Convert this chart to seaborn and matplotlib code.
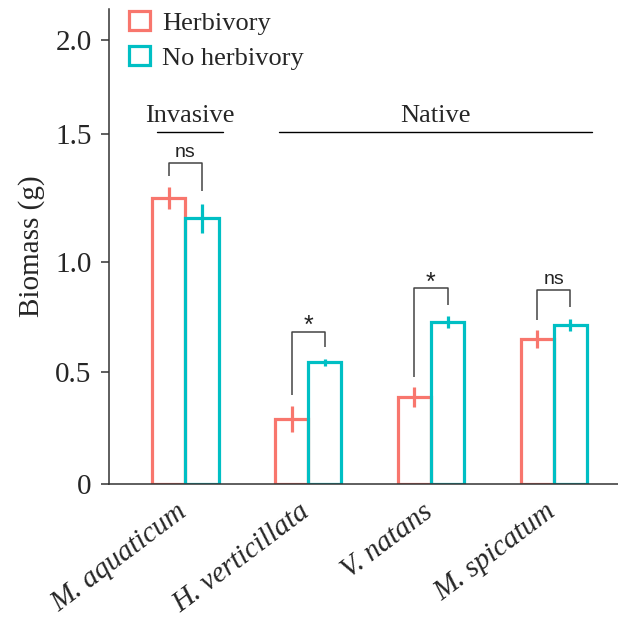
import numpy as np
import pandas as pd
import matplotlib
matplotlib.use("Agg")
import matplotlib.pyplot as plt
import seaborn as sns
from matplotlib.patches import Patch
from matplotlib.transforms import ScaledTranslation

# ---------------- data ----------------
species = ["M. aquaticum", "H. verticillata", "V. natans", "M. spicatum"]
treatments = ["Herbivory", "No herbivory"]
herb_mean = [1.25, 0.29, 0.387, 0.65]
herb_se = [0.042, 0.06, 0.044, 0.039]
noherb_mean = [1.17, 0.544, 0.727, 0.715]
noherb_se = [0.057, 0.015, 0.029, 0.028]
sig_labels = ["ns", "*", "*", "ns"]
bracket_top = [1.386, 0.683, 0.880, 0.871]
bracket_left = [1.336, 0.397, 0.479, 0.736]
bracket_right = [1.279, 0.615, 0.805, 0.797]
group_names = ["Invasive", "Native"]
group_first = [0, 1]
group_last = [0, 3]
group_line_y = 1.512
y_ticks = [0, 0.5, 1.0, 1.5, 2.0]
y_tick_labels = ["0", "0.5", "1.0", "1.5", "2.0"]
colors = ["#F8766D", "#00BFC4"]

df = pd.DataFrame({
    "species": species * 2,
    "treatment": [treatments[0]] * len(species) + [treatments[1]] * len(species),
    "biomass": herb_mean + noherb_mean,
})

sns.set_theme(style="ticks")
plt.rcParams["font.family"] = ["Liberation Serif", "DejaVu Serif"]

W, H = 618, 620
fig = plt.figure(figsize=(W / 100, H / 100), dpi=100)
ax = fig.add_axes([109 / W, 1 - 484 / H, 1 - 109 / W, (484 - 9) / H])

sns.barplot(data=df, x="species", y="biomass", hue="treatment",
            palette=colors, fill=False, linewidth=2.3, width=0.54, gap=0,
            errorbar=None, legend=False, ax=ax)

# piecewise axis scale (as in the reference figure)
vals = [-1.0, 0.0, 0.5, 1.0, 1.5, 2.0, 3.0]
pix = [-224.0, 0.0, 112.0, 222.0, 350.0, 444.0, 632.0]
def fwd(v):
    return np.interp(v, vals, pix)
def inv(p):
    return np.interp(p, pix, vals)
ax.set_yscale("function", functions=(fwd, inv))
ax.set_ylim(0, 2.165)
ax.set_xlim(-0.622, 3.523)

# error bars
centers = []
for cont, se, col in zip(ax.containers, [herb_se, noherb_se], colors):
    xs = [b.get_x() + b.get_width() / 2 for b in cont]
    ys = [b.get_y() + b.get_height() for b in cont]
    centers.append(xs)
    ax.errorbar(xs, ys, yerr=se, fmt="none", ecolor=col, elinewidth=2.3,
                capsize=0, zorder=3)

# significance brackets
for i in range(len(species)):
    xl, xr = centers[0][i], centers[1][i]
    ax.plot([xl, xl, xr, xr],
            [bracket_left[i], bracket_top[i], bracket_top[i], bracket_right[i]],
            color="#444444", lw=1.1, solid_capstyle="butt")
    is_ns = sig_labels[i] == "ns"
    ax.annotate(sig_labels[i], xy=((xl + xr) / 2, bracket_top[i]),
                xytext=(0, 4.5 if is_ns else -1.0), textcoords="offset points",
                ha="center", va="baseline", fontsize=14 if is_ns else 18,
                color="#222222", family=["Liberation Sans", "DejaVu Sans"])

# group headers
for name, a, b in zip(group_names, group_first, group_last):
    x0 = a - 0.235
    x1 = b + 0.31
    ax.plot([x0, x1], [group_line_y, group_line_y], color="black", lw=1.0)
    ax.annotate(name, xy=((x0 + x1) / 2, group_line_y), xytext=(0, 7),
                textcoords="offset points", ha="center", va="baseline",
                fontsize=19)

# axes styling
ax.set_yticks(y_ticks, y_tick_labels)
ax.tick_params(axis="y", length=6, width=1.1, direction="out", pad=6.5,
               labelsize=21, color="#333333")
ax.set_xticks(range(len(species)))
ax.set_xticklabels(species, rotation=37, ha="right", va="baseline",
                   rotation_mode="anchor", fontsize=21, style="italic")
ax.tick_params(axis="x", length=0, pad=22)
for lab in ax.get_xticklabels():
    lab.set_transform(lab.get_transform() + ScaledTranslation(0.03, 0, fig.dpi_scale_trans))

ax.set_xlabel("")
ax.set_ylabel("Biomass (g)", fontsize=21, labelpad=7)
sns.despine(ax=ax)
for s in ["left", "bottom"]:
    ax.spines[s].set_linewidth(1.1)
    ax.spines[s].set_color("#333333")

# legend
handles = [Patch(facecolor="none", edgecolor=c, linewidth=2.3) for c in colors]
fig.legend(handles, treatments, loc="upper left",
           bbox_to_anchor=(129 / W, 1 - 11 / H), frameon=False, fontsize=19,
           handlelength=0.8, handleheight=0.75, handletextpad=0.45,
           labelspacing=0.42, borderpad=0, borderaxespad=0)

fig.savefig("out.png", dpi=100)
